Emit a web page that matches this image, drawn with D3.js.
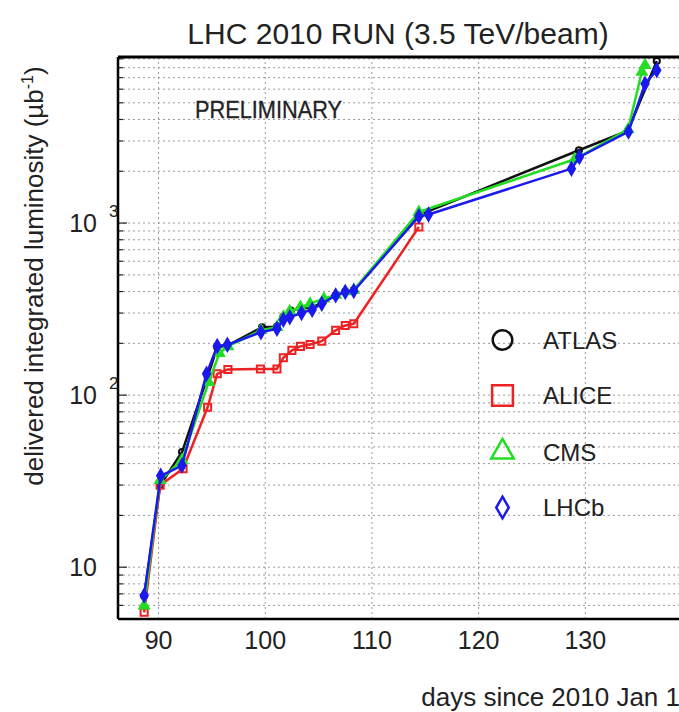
<!DOCTYPE html>
<html>
<head>
<meta charset="utf-8">
<script src="https://cdn.jsdelivr.net/npm/d3@7"></script>
<style>
  body { margin: 0; background: #fff; }
  svg { display: block; font-family: "Liberation Sans", Arial, sans-serif; }
  .grid line { stroke: #999; stroke-width: 1; stroke-dasharray: 2,3; }
  .series path.line { fill: none; stroke-width: 2.5; stroke-linejoin: round; }
</style>
</head>
<body>
<script>
// values: days since 2010 Jan 1, delivered luminosity (µb^-1)
const atlasDays = [88.65, 90.15, 92.2, 94.6, 95.5, 96.5, 99.7, 101.1, 101.7, 102.4, 103.3, 104.4, 105.4, 106.6, 107.5, 108.3, 114.5, 129.4, 134.0, 136.7];
const atlasLumi = [6.8, 29.9, 46.7, 128, 190, 195, 248, 250, 285, 310, 320, 322, 350, 380, 400, 408, 1120, 2650, 3450, 8750];

const aliceDays = [88.65, 90.15, 92.3, 94.6, 95.5, 96.5, 99.55, 101.1, 101.7, 102.5, 103.3, 104.2, 105.3, 106.6, 107.5, 108.3, 114.4];
const aliceLumi = [5.47, 30, 37.3, 85, 133, 141, 142, 142, 165, 182, 192, 197, 206, 238, 254, 260, 948];

const cmsDays = [88.65, 90.15, 92.2, 94.7, 95.7, 96.5, 99.6, 101.1, 101.7, 102.3, 103.3, 104.2, 105.5, 106.6, 107.5, 108.3, 114.4, 129.0, 134.0, 135.3, 135.6];
const cmsLumi = [5.98, 32, 42, 119, 175, 192, 238, 248, 285, 307, 325, 340, 363, 382, 400, 408, 1159, 2350, 3500, 7550, 8270];

const lhcbDays = [88.65, 90.2, 92.2, 94.5, 95.5, 96.45, 99.6, 101.1, 101.7, 102.3, 103.4, 104.4, 105.3, 106.6, 107.5, 108.3, 114.4, 115.3, 128.7, 129.45, 134.05, 135.6, 136.7];
const lhcbLumi = [6.84, 34, 39, 133, 193, 196, 232, 243, 274, 284, 300, 314, 340, 380, 397, 403, 1094, 1122, 2071, 2421, 3400, 6450, 7730];

const seriesNames = ["ATLAS", "ALICE", "CMS", "LHCb"];
const seriesColors = ["#111111", "#ee2222", "#22dd22", "#1a1aee"];
const xGrid = [90, 100, 110, 120, 130, 140];
const xTickLabels = [90, 100, 110, 120, 130];
const yLabelTicks = [10, 100, 1000];

const series = [
  { name: "ATLAS", days: atlasDays, lumi: atlasLumi, symbol: d3.symbolCircle, size: 30, filled: false },
  { name: "ALICE", days: aliceDays, lumi: aliceLumi, symbol: d3.symbolSquare, size: 50, filled: false },
  { name: "CMS", days: cmsDays, lumi: cmsLumi, symbol: d3.symbolTriangle, size: 40, filled: true },
  { name: "LHCb", days: lhcbDays, lumi: lhcbLumi, symbol: d3.symbolDiamond, size: 45, filled: true }
];
const legendSymbols = [
  { type: d3.symbolCircle, size: 300 },
  { type: d3.symbolSquare, size: 430 },
  { type: d3.symbolTriangle, size: 220 },
  { type: d3.symbolDiamond, size: 136 }
];

const width = 679, height = 712;
const plotLeft = 118, plotTop = 57, plotBottom = 619, plotRight = 692;

const x = d3.scaleLinear().domain([86.2, 140]).range([plotLeft, plotRight]);
const y = d3.scaleLog().domain([5, 9230]).range([plotBottom, plotTop]);

const svg = d3.select("body").append("svg")
    .attr("width", width)
    .attr("height", height);

svg.append("defs").append("clipPath")
    .attr("id", "plot")
  .append("rect")
    .attr("x", plotLeft).attr("y", plotTop)
    .attr("width", plotRight - plotLeft).attr("height", plotBottom - plotTop);

// grid
const grid = svg.append("g").attr("class", "grid");
grid.selectAll("line.v")
  .data(xGrid)
  .join("line")
    .attr("class", "v")
    .attr("x1", d => x(d)).attr("x2", d => x(d))
    .attr("y1", plotTop).attr("y2", plotBottom);
grid.selectAll("line.h")
  .data(y.ticks().filter(d => d > 5))
  .join("line")
    .attr("class", "h")
    .attr("x1", plotLeft).attr("x2", plotRight)
    .attr("y1", d => y(d)).attr("y2", d => y(d));

// inward ticks on the left frame
svg.append("g")
  .selectAll("line")
  .data(y.ticks())
  .join("line")
    .attr("x1", plotLeft)
    .attr("x2", d => plotLeft + (yLabelTicks.includes(d) ? 9 : 5))
    .attr("y1", d => y(d)).attr("y2", d => y(d))
    .attr("stroke", "#222").attr("stroke-width", 1.2);

svg.append("text")
    .attr("x", 195).attr("y", 118)
    .attr("font-size", 24)
    .attr("textLength", 147)
    .attr("lengthAdjust", "spacingAndGlyphs")
    .attr("fill", "#222")
    .attr("stroke", "#222").attr("stroke-width", 0.3)
    .text("PRELIMINARY");

// series
const plot = svg.append("g").attr("clip-path", "url(#plot)");
const line = d3.line().x(d => x(d[0])).y(d => y(d[1]));

series.forEach((s, i) => {
  const pts = s.days.map((d, j) => [d, s.lumi[j]]);
  const g = plot.append("g").attr("class", "series");
  g.append("path")
      .attr("class", "line")
      .attr("stroke", seriesColors[i])
      .attr("d", line(pts));
  g.selectAll("path.mark")
    .data(pts)
    .join("path")
      .attr("class", "mark")
      .attr("transform", d => `translate(${x(d[0])},${y(d[1])})`)
      .attr("d", d3.symbol(s.symbol, s.size))
      .attr("fill", s.filled ? seriesColors[i] : "none")
      .attr("stroke", seriesColors[i])
      .attr("stroke-width", 2);
});

// frame
const frame = svg.append("g").attr("stroke", "#000").attr("fill", "none");
frame.append("line").attr("x1", plotLeft).attr("x2", plotRight).attr("y1", plotTop).attr("y2", plotTop).attr("stroke-width", 3);
frame.append("line").attr("x1", plotLeft).attr("x2", plotLeft).attr("y1", plotTop).attr("y2", plotBottom).attr("stroke-width", 2.5);
frame.append("line").attr("x1", plotLeft).attr("x2", plotRight).attr("y1", plotBottom).attr("y2", plotBottom).attr("stroke-width", 2.5);

// x tick labels
svg.append("g")
  .selectAll("text")
  .data(xTickLabels)
  .join("text")
    .attr("x", d => x(d))
    .attr("y", 649)
    .attr("text-anchor", "middle")
    .attr("font-size", 25)
    .attr("fill", "#222")
    .text(d => d);

// y tick labels (10, 10^2, 10^3)
const yl = svg.append("g").attr("fill", "#222");
yLabelTicks.forEach(v => {
  const e = Math.round(Math.log10(v));
  yl.append("text")
      .attr("x", 97).attr("y", y(v) + 9)
      .attr("text-anchor", "end")
      .attr("font-size", 25)
      .text("10");
  if (e > 1) {
    yl.append("text")
        .attr("x", 109).attr("y", y(v) - 6)
        .attr("font-size", 17)
        .text(e);
  }
});

// title and axis titles
svg.append("text")
    .attr("x", 398).attr("y", 44)
    .attr("text-anchor", "middle")
    .attr("font-size", 30)
    .attr("fill", "#222")
    .text("LHC 2010 RUN (3.5 TeV/beam)");

svg.append("text")
    .attr("x", 680).attr("y", 706)
    .attr("text-anchor", "end")
    .attr("font-size", 26)
    .attr("fill", "#222")
    .text("days since 2010 Jan 1");

const ylab = svg.append("text")
    .attr("transform", "translate(43,276) rotate(-90)")
    .attr("text-anchor", "middle")
    .attr("font-size", 26)
    .attr("fill", "#222");
ylab.append("tspan").text("delivered integrated luminosity (\u00b5b");
ylab.append("tspan").attr("dy", -10).attr("font-size", 16).text("-1");
ylab.append("tspan").attr("dy", 10).text(")");

// legend
const legend = svg.append("g");
const legendY = [340, 395.5, 452, 507.5];
seriesNames.forEach((name, i) => {
  legend.append("path")
      .attr("transform", `translate(502.5,${legendY[i]})`)
      .attr("d", d3.symbol(legendSymbols[i].type, legendSymbols[i].size))
      .attr("fill", "none")
      .attr("stroke", seriesColors[i])
      .attr("stroke-width", 2.5);
  legend.append("text")
      .attr("x", 543).attr("y", legendY[i] + 8.5)
      .attr("font-size", 24)
      .attr("fill", "#222")
      .text(name);
});
</script>
</body>
</html>
